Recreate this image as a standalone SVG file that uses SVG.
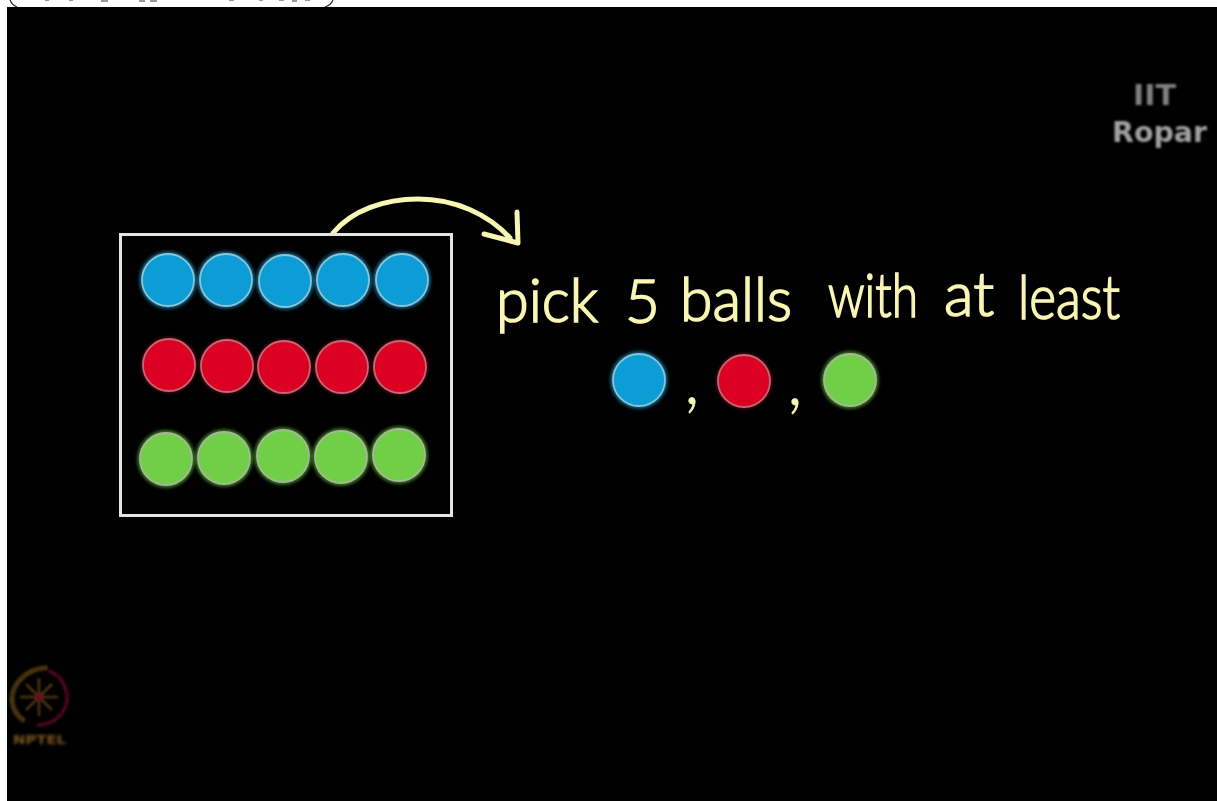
<svg xmlns="http://www.w3.org/2000/svg" width="1217" height="801" viewBox="0 0 1217 801">
<style>
.hand{font-family:"Lato","Liberation Sans",sans-serif;font-size:62px;font-weight:300;fill:#f9f6b4;stroke:#f9f6b4;stroke-width:1.7;filter:url(#soft)}
.comma{font-size:72px;stroke-width:.6}
.ball{stroke-width:1.8;filter:url(#soft)}
.glow{filter:url(#halo);opacity:.5}
.b{fill:#0f9dd6}.b.ball{stroke:#8cc4d6}.b.glow{fill:#25b4f0}
.r{fill:#dc0320}.r.ball{stroke:#c06a78}.r.glow{fill:#a8182c}
.g{fill:#70cf47}.g.ball{stroke:#a9b5a0}.g.glow{fill:#6fdc3c}
.logo{font-family:"DejaVu Sans","Liberation Sans",sans-serif;font-weight:700;filter:url(#blur1)}
.specks{fill:#999}
</style>
<defs>
<filter id="soft" x="-10%" y="-10%" width="120%" height="120%"><feGaussianBlur stdDeviation=".6"/></filter>
<filter id="blur1" x="-10%" y="-20%" width="120%" height="140%"><feGaussianBlur stdDeviation=".9"/></filter>
<filter id="halo" x="-30%" y="-30%" width="160%" height="160%"><feGaussianBlur stdDeviation="1.8"/></filter>
</defs>
<rect width="1217" height="801" fill="#fff"/>
<g id="page-strip">
<path d="M10 0Q12 5 17 7M333 0Q331 5 325 7" fill="none" stroke="#222" stroke-width="1.2"/>
<path class="specks" d="M45 0h4v1h-4zM69 0h4v1h-4zM101 0h7v2h-7zM139 0h6v2h-6zM150 0h7v2h-7zM229 0h5v1h-5zM259 0h4v1h-4zM279 0h5v1h-5zM292 0h5v2h-5zM305 0h5v1h-5z"/>
</g>
<rect x="7" y="7" width="1210" height="794" fill="#000"/>

<g id="logo-iit">
<text class="logo" x="1133" y="105" font-size="28" textLength="43" lengthAdjust="spacingAndGlyphs" fill="#808080">IIT</text>
<text class="logo" x="1112" y="142" font-size="28" textLength="95" lengthAdjust="spacingAndGlyphs" fill="#a0a0a0">Ropar</text>
</g>
<g id="logo-nptel" fill="none" filter="url(#blur1)">
<path d="M47 668C27 668 12 684 12 699C12 709 18 717 25 721" stroke="#6b4d12" stroke-width="5" stroke-dasharray="2 1"/>
<path d="M49 671C60 675 67 686 67 698C67 713 54 725 37 725" stroke="#6a0a2a" stroke-width="4" stroke-dasharray="2 1"/>
<path d="M39 678V716M20 697H58M26 684L52 710M52 684L26 710" stroke="#4f3610" stroke-width="2.500"/>
<circle cx="39" cy="697" r="4" fill="#6a0a2a"/>
<text class="logo" x="13" y="744" font-size="13" textLength="53" lengthAdjust="spacingAndGlyphs" fill="#7a5620">NPTEL</text>
</g>

<g id="connectors">
<path d="M333 233C352 210 385 199 418 199C455 199 488 214 510 238" fill="none" stroke="#f9f6b4" stroke-width="5" stroke-linecap="round" filter="url(#soft)"/>
<path d="M484 234L518 243L517 212" fill="none" stroke="#f9f6b4" stroke-width="5" stroke-linecap="round" stroke-linejoin="round" filter="url(#soft)"/>
</g>
<g id="box"><rect x="120.500" y="234.500" width="331" height="281" fill="none" stroke="#e4e4e4" stroke-width="3"/></g>

<g id="balls-blue">
<circle class="b glow" cx="168" cy="280" r="29"/><circle class="b ball" cx="168" cy="280" r="26"/>
<circle class="b glow" cx="226" cy="280" r="29"/><circle class="b ball" cx="226" cy="280" r="26"/>
<circle class="b glow" cx="285" cy="281" r="29"/><circle class="b ball" cx="285" cy="281" r="26"/>
<circle class="b glow" cx="343" cy="280" r="29"/><circle class="b ball" cx="343" cy="280" r="26"/>
<circle class="b glow" cx="402" cy="280" r="29"/><circle class="b ball" cx="402" cy="280" r="26"/>
</g>
<g id="balls-red">
<circle class="r glow" cx="169" cy="365" r="28"/><circle class="r ball" cx="169" cy="365" r="26"/>
<circle class="r glow" cx="227" cy="366" r="28"/><circle class="r ball" cx="227" cy="366" r="26"/>
<circle class="r glow" cx="284" cy="367" r="28"/><circle class="r ball" cx="284" cy="367" r="26"/>
<circle class="r glow" cx="342" cy="367" r="28"/><circle class="r ball" cx="342" cy="367" r="26"/>
<circle class="r glow" cx="400" cy="367" r="28"/><circle class="r ball" cx="400" cy="367" r="26"/>
</g>
<g id="balls-green">
<circle class="g glow" cx="166" cy="459" r="29"/><circle class="g ball" cx="166" cy="459" r="26"/>
<circle class="g glow" cx="224" cy="458" r="29"/><circle class="g ball" cx="224" cy="458" r="26"/>
<circle class="g glow" cx="283" cy="456" r="29"/><circle class="g ball" cx="283" cy="456" r="26"/>
<circle class="g glow" cx="341" cy="457" r="29"/><circle class="g ball" cx="341" cy="457" r="26"/>
<circle class="g glow" cx="399" cy="455" r="29"/><circle class="g ball" cx="399" cy="455" r="26"/>
</g>

<g id="caption">
<text class="hand" x="496" y="322" textLength="102" lengthAdjust="spacingAndGlyphs">pick</text>
<text class="hand" x="625" y="323" textLength="35" lengthAdjust="spacingAndGlyphs">5</text>
<text class="hand" x="680" y="321" textLength="112" lengthAdjust="spacingAndGlyphs">balls</text>
<text class="hand" x="828" y="317" textLength="90" lengthAdjust="spacingAndGlyphs">with</text>
<text class="hand" x="944" y="316" textLength="50" lengthAdjust="spacingAndGlyphs">at</text>
<text class="hand" x="1018" y="319" textLength="102" lengthAdjust="spacingAndGlyphs">least</text>
</g>
<g id="legend-blue"><circle class="b glow" cx="639" cy="380" r="29"/><circle class="b ball" cx="639" cy="380" r="26"/></g>
<text class="hand comma" x="684" y="404">,</text>
<g id="legend-red"><circle class="r glow" cx="744" cy="381" r="28"/><circle class="r ball" cx="744" cy="381" r="26"/></g>
<text class="hand comma" x="787" y="405">,</text>
<g id="legend-green"><circle class="g glow" cx="850" cy="380" r="29"/><circle class="g ball" cx="850" cy="380" r="26"/></g>
</svg>
